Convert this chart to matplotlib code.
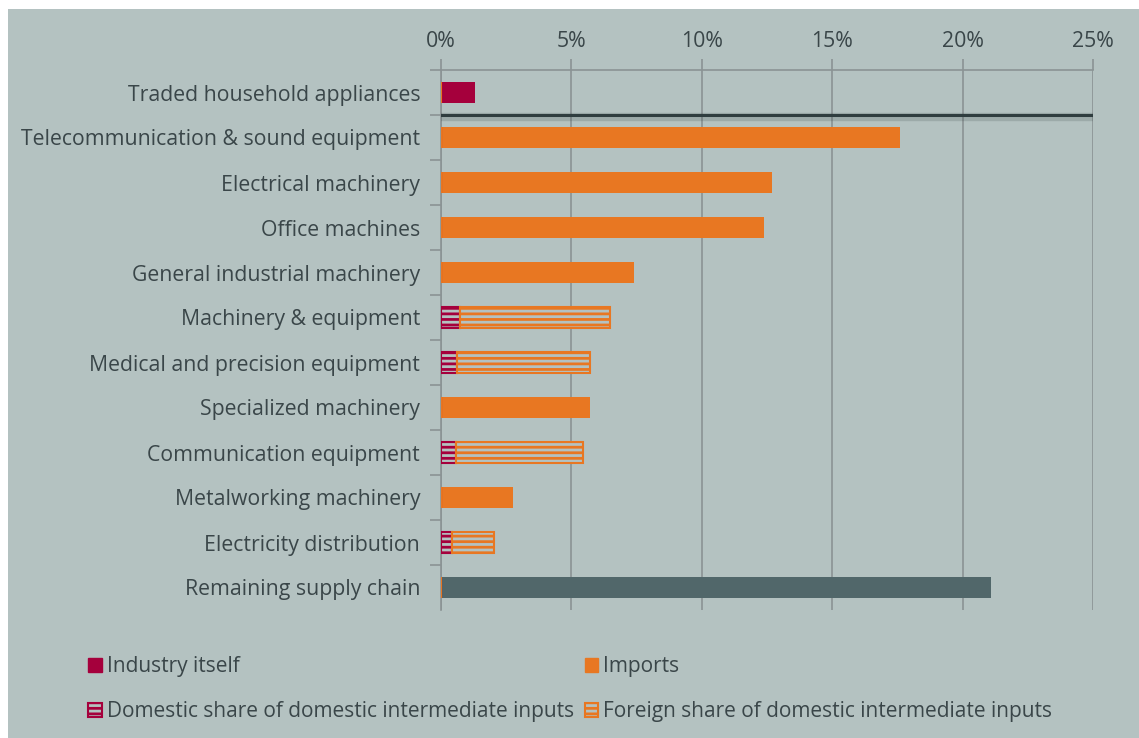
import matplotlib.pyplot as plt
from matplotlib.patches import Patch, Rectangle
from matplotlib.ticker import PercentFormatter

categories = [
    "Traded household appliances",
    "Telecommunication & sound equipment",
    "Electrical machinery",
    "Office machines",
    "General industrial machinery",
    "Machinery & equipment",
    "Medical and precision equipment",
    "Specialized machinery",
    "Communication equipment",
    "Metalworking machinery",
    "Electricity distribution",
    "Remaining supply chain",
]
industry = [1.3, 0, 0, 0, 0, 0, 0, 0, 0, 0, 0, 0]
imports = [0, 17.6, 12.7, 12.4, 7.4, 0, 0, 5.7, 0, 2.76, 0, 0]
domestic = [0, 0, 0, 0, 0, 0.73, 0.6, 0, 0.58, 0, 0.42, 0]
foreign = [0, 0, 0, 0, 0, 5.75, 5.1, 0, 4.87, 0, 1.61, 0]
remaining = [0, 0, 0, 0, 0, 0, 0, 0, 0, 0, 0, 21.1]

BG = "#b4c2c1"
CRIMSON = "#a5003c"
ORANGE = "#e87722"
SLATE = "#51676a"
TEXT = "#3a4649"
GRID = "#8a9394"
FS = 15.3

plt.rcParams["font.family"] = ["Open Sans", "DejaVu Sans"]
plt.rcParams["hatch.linewidth"] = 2.0

fig = plt.figure(figsize=(11.39, 7.38), dpi=100, facecolor="white")
fig.patches.append(Rectangle((8 / 1139, 0), 1 - 8 / 1139, 1 - 9 / 738,
                             transform=fig.transFigure, facecolor=BG,
                             edgecolor="none", zorder=-10))

ax = fig.add_axes([441 / 1139, 1 - 610 / 738, 652 / 1139, 540 / 738])
ax.set_facecolor("none")

y = list(range(len(categories)))
h = 0.47
ax.barh(y, industry, height=h, color=CRIMSON, zorder=3)
ax.barh(y, imports, height=h, color=ORANGE, zorder=3)
ax.barh(y, remaining, height=h, color=SLATE, zorder=3)
ax.barh(y, domestic, height=h, facecolor=BG, edgecolor=CRIMSON,
        hatch="---", linewidth=1.5, zorder=3)
ax.barh(y, foreign, left=domestic, height=h, facecolor=BG, edgecolor=ORANGE,
        hatch="---", linewidth=1.5, zorder=3)

# separator under the first row, with a soft shadow
ax.axhline(0.5 + 0.05, color="#2f3d3f", alpha=0.18, linewidth=6, zorder=4)
ax.axhline(0.5, color="#2f3d3f", linewidth=2.2, zorder=5)

ax.set_xlim(0, 25)
ax.set_ylim(len(categories) - 0.5, -0.5)
ax.xaxis.set_major_formatter(PercentFormatter(decimals=0))
ax.set_xticks([0, 5, 10, 15, 20, 25])
ax.xaxis.tick_top()
ax.tick_params(axis="x", colors=GRID, labelcolor=TEXT, labelsize=FS,
               length=8, width=1.2, pad=5)
ax.grid(axis="x", color=GRID, linewidth=1.2, zorder=0)

ax.set_yticks(y)
ax.set_yticklabels(categories)
ax.set_yticks([i + 0.5 for i in range(-1, len(categories) - 1)], minor=True)
ax.tick_params(axis="y", which="major", length=0, labelsize=FS,
               labelcolor=TEXT, pad=15)
ax.tick_params(axis="y", which="minor", length=8, width=1.2, color=GRID)

for side in ["right", "bottom"]:
    ax.spines[side].set_visible(False)
for side in ["left", "top"]:
    ax.spines[side].set_color(GRID)
    ax.spines[side].set_linewidth(1.2)

handles = [
    Patch(facecolor=CRIMSON, edgecolor=CRIMSON),
    Patch(facecolor=BG, edgecolor=CRIMSON, hatch="---", linewidth=1.5),
    Patch(facecolor=ORANGE, edgecolor=ORANGE),
    Patch(facecolor=BG, edgecolor=ORANGE, hatch="---", linewidth=1.5),
]
labels = [
    "Industry itself",
    "Domestic share of domestic intermediate inputs",
    "Imports",
    "Foreign share of domestic intermediate inputs",
]
fig.legend(handles, labels, ncol=2, loc="upper left",
           bbox_to_anchor=(80 / 1139, 1 - 648 / 738), frameon=False,
           fontsize=15.0, labelcolor=TEXT, handlelength=0.65,
           handleheight=0.65, handletextpad=0.25, columnspacing=0.5,
           labelspacing=1.15, borderaxespad=0)

fig.savefig("out.png", dpi=100, facecolor="white")
